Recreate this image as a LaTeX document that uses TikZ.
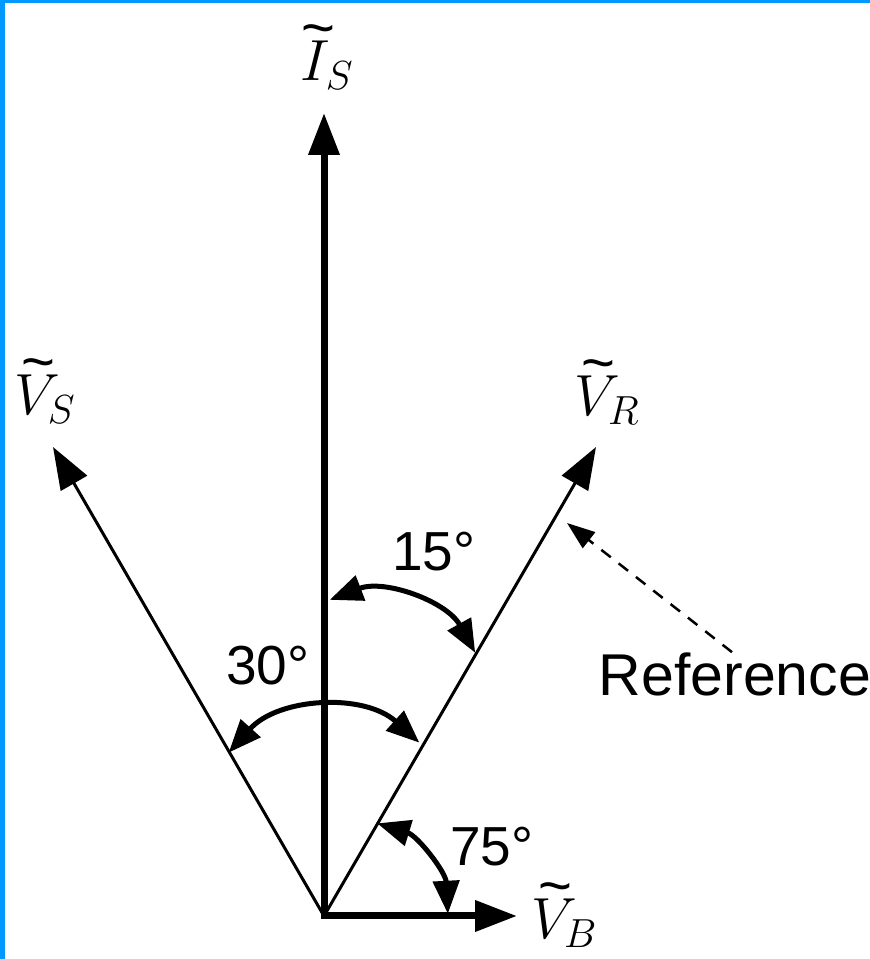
\RequirePackage{fix-cm}
\documentclass[tikz,border=0pt]{standalone}
\usepackage{fontspec}
\setmainfont{Liberation Sans}
\usetikzlibrary{arrows.meta}
\definecolor{frameblue}{HTML}{0099FF}
\newcommand{\tlsym}[2]{\makebox[0pt][l]{\hspace{#1}\raisebox{0.58em}{\textasciitilde}}#2}
\begin{document}
\begin{tikzpicture}[x=1pt,y=1pt,
  vec/.style={draw=black, -{Triangle[length=42pt,width=30pt]}},
  arcarrow/.style={draw=black, line width=5pt, {Triangle[length=33pt,width=26pt]}-{Triangle[length=33pt,width=26pt]}},
  lab/.style={font=\fontsize{55}{60}\selectfont, inner sep=0pt},
  mlab/.style={font=\fontsize{58}{60}\selectfont, inner sep=0pt},
  refline/.style={draw=black, line width=2.5pt, dash pattern=on 12pt off 10pt, -{Triangle[length=28pt,width=20pt]}}]
\useasboundingbox (0,0) rectangle (870,959);
\fill[white] (0,0) rectangle (870,959);
\fill[frameblue] (0,956) rectangle (870,959);
\fill[frameblue] (0,0) rectangle (5,959);
% points
\coordinate (O) at (324,43);
\coordinate (IsT) at (324,846);
\coordinate (VBT) at (517,43);
\coordinate (VST) at (53,512);
\coordinate (VRT) at (596,512);
\coordinate (C15) at (372,249);
\coordinate (C30) at (329,116);
\coordinate (C75) at (348,40);
% vectors
\draw[vec, line width=3pt] (O) -- (VST);
\draw[vec, line width=3pt] (O) -- (VRT);
\draw[vec, line width=7pt, line cap=rect] (O) -- (IsT);
\draw[vec, line width=7pt, line cap=rect] (O) -- (VBT);
% angle arcs
\draw[arcarrow] ([shift={(111:118)}]C15) arc[start angle=111, end angle=29, radius=118];
\draw[arcarrow] ([shift={(138:135)}]C30) arc[start angle=138, end angle=48, radius=135];
\draw[arcarrow] ([shift={(73:100)}]C75) arc[start angle=73, end angle=3, radius=100];
% labels
\node[mlab] (Is) at (327,902) {\tlsym{0.02em}{$I_S$}};
\node[mlab] (Vs) at (45,568) {\tlsym{0.12em}{$V_S$}};
\node[mlab] (Vr) at (607,567) {\tlsym{0.12em}{$V_R$}};
\node[mlab] (Vb) at (564,44) {\tlsym{0.12em}{$V_B$}};
\node[lab] (a15) at (434,407) {15°};
\node[lab] (a30) at (268,293) {30°};
\node[lab] (a75) at (492,112) {75°};
\node[lab, font=\fontsize{59}{62}\selectfont] (ref) at (735,285) {Reference};
\coordinate (RefT) at (567,436);
\draw[refline] ([xshift=-3pt]ref.north) -- (RefT);
\end{tikzpicture}
\end{document}
